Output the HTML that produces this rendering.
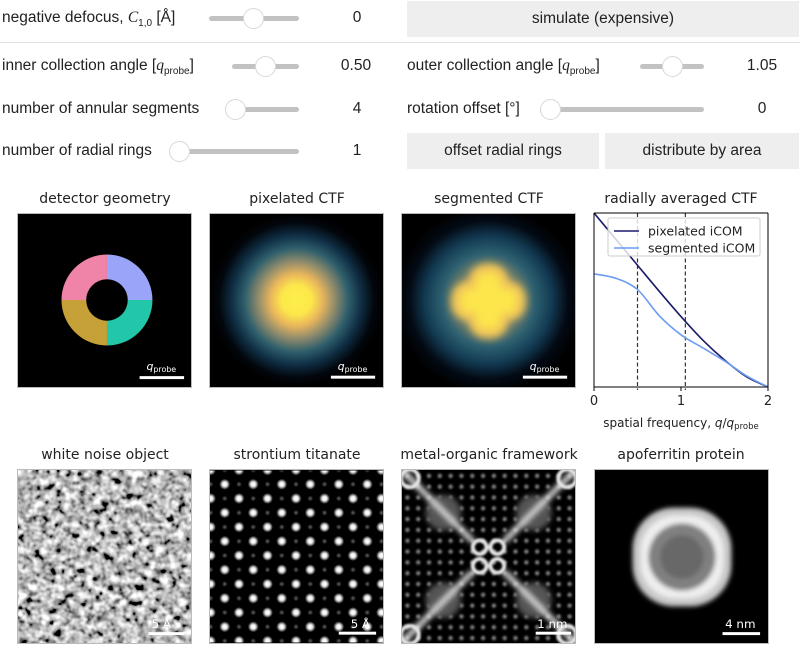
<!DOCTYPE html>
<html><head><meta charset="utf-8">
<style>
body{margin:0;width:804px;height:658px;background:#fff;position:relative;overflow:hidden;font-family:"Liberation Sans","DejaVu Sans",sans-serif;color:#222}
.abs{position:absolute}
.lbl{position:absolute;font-size:15.5px;line-height:20px;white-space:nowrap}
.val{position:absolute;font-size:15.5px;line-height:20px;text-align:center;width:60px}
.track{position:absolute;height:5px;background:#c2c2c2;border-radius:3px}
.thumb{position:absolute;width:21px;height:21px;border-radius:50%;background:#fff;border:1px solid #d8d8d8;box-sizing:border-box}
.btn{position:absolute;background:#eeeeee;font-size:15.5px;text-align:center;line-height:36px;height:36px}
.ttl{position:absolute;font-family:"DejaVu Sans",sans-serif;font-size:14px;text-align:center;width:200px}
.img{position:absolute;width:175px;height:175px;border:1px solid #bbb;box-sizing:border-box;overflow:hidden;background:#000}
sub{font-size:10px}
</style></head><body>

<div class="lbl" style="left:2px;top:8px">negative defocus, <i style="font-family:'Liberation Serif',serif">C</i><sub>1,0</sub> [Å]</div>
<div class="track" style="left:209px;top:16px;width:90px"></div>
<div class="thumb" style="left:243px;top:8px"></div>
<div class="val" style="left:327px;top:8px">0</div>
<div class="btn" style="left:407px;top:1px;width:392px">simulate (expensive)</div>
<div class="abs" style="left:0;top:42px;width:800px;height:1px;background:#e2e2e2"></div>

<div class="lbl" style="left:2px;top:56px">inner collection angle [<i style="font-family:'Liberation Serif',serif">q</i><sub>probe</sub>]</div>
<div class="track" style="left:232px;top:64px;width:67px"></div>
<div class="thumb" style="left:255px;top:56px"></div>
<div class="val" style="left:326px;top:56px">0.50</div>
<div class="lbl" style="left:407px;top:56px">outer collection angle [<i style="font-family:'Liberation Serif',serif">q</i><sub>probe</sub>]</div>
<div class="track" style="left:640px;top:64px;width:64px"></div>
<div class="thumb" style="left:662px;top:56px"></div>
<div class="val" style="left:732px;top:56px">1.05</div>

<div class="lbl" style="left:2px;top:99px">number of annular segments</div>
<div class="track" style="left:225px;top:107px;width:74px"></div>
<div class="thumb" style="left:225px;top:99px"></div>
<div class="val" style="left:327px;top:99px">4</div>
<div class="lbl" style="left:407px;top:99px">rotation offset [°]</div>
<div class="track" style="left:541px;top:107px;width:163px"></div>
<div class="thumb" style="left:540px;top:99px"></div>
<div class="val" style="left:732px;top:99px">0</div>

<div class="lbl" style="left:2px;top:141px">number of radial rings</div>
<div class="track" style="left:170px;top:149px;width:129px"></div>
<div class="thumb" style="left:169px;top:141px"></div>
<div class="val" style="left:327px;top:141px">1</div>
<div class="btn" style="left:407px;top:133px;width:192px">offset radial rings</div>
<div class="btn" style="left:605px;top:133px;width:194px">distribute by area</div>

<div class="ttl" style="left:5px;top:191px">detector geometry</div>
<div class="ttl" style="left:197px;top:191px">pixelated CTF</div>
<div class="ttl" style="left:389px;top:191px">segmented CTF</div>
<div class="ttl" style="left:581px;top:191px">radially averaged CTF</div>

<svg class="img" style="left:17px;top:213px" width="175" height="175" viewBox="0 0 175 175">
<rect width="175" height="175" fill="#000"/>
<path d="M90,87 L90,41 A46,46 0 0 0 44,87 Z" fill="#ef84a8"/>
<path d="M90,87 L136,87 A46,46 0 0 0 90,41 Z" fill="#9aa5fa"/>
<path d="M90,87 L44,87 A46,46 0 0 0 90,133 Z" fill="#c6a137"/>
<path d="M90,87 L90,133 A46,46 0 0 0 136,87 Z" fill="#22c7a9"/>
<circle cx="90" cy="87" r="21" fill="#000"/>
<text x="145" y="158" fill="#fff" font-family="DejaVu Sans" font-size="11" font-style="italic" text-anchor="middle">q<tspan font-style="normal" font-size="8" dy="2">probe</tspan></text>
<rect x="123" y="164" width="45" height="3" fill="#fff"/>
</svg>

<svg class="img" style="left:209px;top:213px" width="176" height="175" viewBox="0 0 176 175">
<defs><radialGradient id="g1" cx="88" cy="87" r="88" gradientUnits="userSpaceOnUse">
<stop offset="0" stop-color="#fdef4a"/><stop offset="0.17" stop-color="#fde84a"/><stop offset="0.3" stop-color="#e9b65c"/><stop offset="0.45" stop-color="#8d8a6c"/><stop offset="0.6" stop-color="#2f5f6c"/><stop offset="0.75" stop-color="#0f2e44"/><stop offset="0.9" stop-color="#02060c"/><stop offset="1" stop-color="#000"/></radialGradient></defs>
<rect width="176" height="175" fill="url(#g1)"/>
<text x="145" y="158" fill="#fff" font-family="DejaVu Sans" font-size="11" font-style="italic" text-anchor="middle">q<tspan font-style="normal" font-size="8" dy="2">probe</tspan></text>
<rect x="123" y="164" width="45" height="3" fill="#fff"/>
</svg>

<svg class="img" style="left:401px;top:213px" width="176" height="175" viewBox="0 0 176 175">
<defs><radialGradient id="g2" cx="88" cy="87" r="95" gradientUnits="userSpaceOnUse">
<stop offset="0" stop-color="#d8b060"/><stop offset="0.3" stop-color="#8a8868"/><stop offset="0.5" stop-color="#2d6070"/><stop offset="0.68" stop-color="#123a52"/><stop offset="0.85" stop-color="#030a14"/><stop offset="1" stop-color="#000"/></radialGradient>
<filter id="bl"><feGaussianBlur stdDeviation="4"/></filter></defs>
<rect width="176" height="175" fill="url(#g2)"/>
<g filter="url(#bl)" fill="#f2c858"><rect x="68" y="50" width="40" height="76" rx="18"/><rect x="50" y="68" width="76" height="40" rx="18"/></g>
<g filter="url(#bl)" fill="#fde64c"><rect x="76" y="60" width="24" height="56" rx="10"/><rect x="60" y="76" width="56" height="24" rx="10"/></g>
<text x="145" y="158" fill="#fff" font-family="DejaVu Sans" font-size="11" font-style="italic" text-anchor="middle">q<tspan font-style="normal" font-size="8" dy="2">probe</tspan></text>
<rect x="123" y="164" width="45" height="3" fill="#fff"/>
</svg>

<svg id="chart" class="abs" style="left:580px;top:205px" width="224" height="230" viewBox="0 0 224 230" font-family="DejaVu Sans"></svg>

<div class="ttl" style="left:5px;top:447px">white noise object</div>
<div class="ttl" style="left:197px;top:447px">strontium titanate</div>
<div class="ttl" style="left:389px;top:447px">metal-organic framework</div>
<div class="ttl" style="left:581px;top:447px">apoferritin protein</div>

<svg class="img" style="left:17px;top:469px" width="175" height="175" viewBox="0 0 175 175">
<defs><filter id="nz" x="0" y="0" width="100%" height="100%"><feTurbulence type="fractalNoise" baseFrequency="0.13" numOctaves="2" seed="4"/><feColorMatrix type="matrix" values="0.33 0.33 0.33 0 0  0.33 0.33 0.33 0 0  0.33 0.33 0.33 0 0  0 0 0 0 1"/><feComponentTransfer><feFuncR type="linear" slope="3.5" intercept="-1.25"/><feFuncG type="linear" slope="3.5" intercept="-1.25"/><feFuncB type="linear" slope="3.5" intercept="-1.25"/></feComponentTransfer></filter></defs>
<rect width="175" height="175" filter="url(#nz)"/>
<text x="145" y="160" fill="#fff" font-family="DejaVu Sans" font-size="12" text-anchor="middle">5 Å</text>
<rect x="132" y="164" width="36" height="3" fill="#fff"/>
</svg>

<svg class="img" style="left:209px;top:469px" width="176" height="175" viewBox="0 0 176 175">
<defs>
<radialGradient id="bd"><stop offset="0" stop-color="#fff"/><stop offset="0.4" stop-color="#f0f0f0"/><stop offset="1" stop-color="#fff" stop-opacity="0"/></radialGradient>
<radialGradient id="dd"><stop offset="0" stop-color="#666"/><stop offset="1" stop-color="#666" stop-opacity="0"/></radialGradient>
<pattern id="sto" x="0.5" y="-0.5" width="29" height="29" patternUnits="userSpaceOnUse">
<rect width="29" height="29" fill="#000"/>
<circle cx="14.5" cy="14.5" r="5.5" fill="url(#bd)"/>
<circle cx="0" cy="0" r="5.5" fill="url(#bd)"/><circle cx="29" cy="0" r="5.5" fill="url(#bd)"/><circle cx="0" cy="29" r="5.5" fill="url(#bd)"/><circle cx="29" cy="29" r="5.5" fill="url(#bd)"/>
<circle cx="0" cy="14.5" r="3" fill="url(#dd)"/><circle cx="29" cy="14.5" r="3" fill="url(#dd)"/>
<circle cx="14.5" cy="0" r="3" fill="url(#dd)"/><circle cx="14.5" cy="29" r="3" fill="url(#dd)"/>
</pattern></defs>
<rect width="176" height="175" fill="url(#sto)"/>
<text x="153" y="160" fill="#fff" font-family="DejaVu Sans" font-size="12" text-anchor="middle">5 Å</text>
<rect x="131" y="164" width="38" height="3" fill="#fff"/>
</svg>

<svg class="img" style="left:401px;top:469px" width="176" height="175" viewBox="0 0 176 175">
<defs><filter id="b3"><feGaussianBlur stdDeviation="3"/></filter><filter id="b1"><feGaussianBlur stdDeviation="1.2"/></filter>
<pattern id="dots" width="11" height="11" patternUnits="userSpaceOnUse"><circle cx="5.5" cy="5.5" r="2.2" fill="#a0a0a0"/></pattern></defs>
<rect width="176" height="175" fill="#000"/>
<rect width="176" height="175" fill="url(#dots)" filter="url(#b1)" opacity="0.85"/>
<g filter="url(#b3)" fill="#555"><circle cx="42" cy="43" r="18"/><circle cx="134" cy="43" r="18"/><circle cx="42" cy="132" r="18"/><circle cx="134" cy="132" r="18"/></g>
<g filter="url(#b3)" stroke="#dcdcdc" stroke-width="6"><line x1="0" y1="0" x2="72" y2="72"/><line x1="176" y1="0" x2="104" y2="72"/><line x1="0" y1="175" x2="72" y2="103"/><line x1="176" y1="175" x2="104" y2="103"/></g>
<g fill="none" stroke="#e8e8e8" stroke-width="4" filter="url(#b1)"><circle cx="79" cy="78" r="7"/><circle cx="97" cy="78" r="7"/><circle cx="79" cy="97" r="7"/><circle cx="97" cy="97" r="7"/>
<circle cx="8" cy="8" r="9"/><circle cx="168" cy="8" r="9"/><circle cx="8" cy="167" r="9"/><circle cx="168" cy="167" r="9"/></g>
<text x="153" y="160" fill="#fff" font-family="DejaVu Sans" font-size="12" text-anchor="middle">1 nm</text>
<rect x="136" y="164" width="36" height="3" fill="#fff"/>
</svg>

<svg class="img" style="left:594px;top:469px" width="175" height="175" viewBox="0 0 175 175">
<defs><filter id="b4"><feGaussianBlur stdDeviation="2.5"/></filter></defs>
<rect width="175" height="175" fill="#000"/>
<g filter="url(#b4)">
<rect x="38" y="38" width="100" height="100" rx="42" fill="#c8c8c8"/>
<rect x="46" y="46" width="84" height="84" rx="36" fill="#eeeeee"/>
<circle cx="88" cy="88" r="34" fill="#808080"/>
<circle cx="88" cy="88" r="22" fill="#686868"/>
</g>
<text x="147" y="160" fill="#fff" font-family="DejaVu Sans" font-size="12" text-anchor="middle">4 nm</text>
<rect x="129" y="164" width="38" height="3" fill="#fff"/>
</svg>

<script>
const qValues=[0,0.25,0.5,0.75,1.0,1.25,1.5,1.75,2.0];
const pixelatedCTF=[1.0,0.85,0.70,0.55,0.405,0.27,0.155,0.06,0.0];
const segmentedCTF=[0.65,0.625,0.56,0.41,0.30,0.225,0.15,0.065,0.0];
const xTicks=[0,1,2];
const cutoffs=[0.5,1.05];
const NS='http://www.w3.org/2000/svg';
const svg=document.getElementById('chart');
const L=14,R=188,T=8,B=182;
const xs=v=>L+(v-0)/2*(R-L);
const ys=v=>B-v*(B-T);
function mk(tag,attrs){const e=document.createElementNS(NS,tag);for(const k in attrs)e.setAttribute(k,attrs[k]);svg.appendChild(e);return e;}
function pathFor(arr){
  const p=qValues.map((q,i)=>[xs(q),ys(arr[i])]);
  let d='M'+p[0][0]+','+p[0][1];
  for(let i=0;i<p.length-1;i++){const p0=p[Math.max(0,i-1)],p1=p[i],p2=p[i+1],p3=p[Math.min(p.length-1,i+2)];
    d+=' C'+(p1[0]+(p2[0]-p0[0])/6)+','+(p1[1]+(p2[1]-p0[1])/6)+' '+(p2[0]-(p3[0]-p1[0])/6)+','+(p2[1]-(p3[1]-p1[1])/6)+' '+p2[0]+','+p2[1];}
  return d;}
cutoffs.forEach(c=>{const l=mk('line',{x1:xs(c),x2:xs(c),y1:T,y2:B+3,stroke:'#333','stroke-width':1.2,'stroke-dasharray':'4,2.5'});

});
const p1=mk('path',{d:pathFor(pixelatedCTF),fill:'none',stroke:'#1b1a6b','stroke-width':1.6});


const p2=mk('path',{d:pathFor(segmentedCTF),fill:'none',stroke:'#6b9cf2','stroke-width':1.6});


const lg=mk('rect',{x:28,y:13,width:152,height:38,rx:2,fill:'#fff','fill-opacity':0.8,stroke:'#ccc'});


[['pixelated iCOM','#1b1a6b',26],['segmented iCOM','#6b9cf2',43]].forEach(([t,c,y])=>{
  const ln=mk('line',{x1:34,x2:59,y1:y,y2:y,stroke:c,'stroke-width':1.6});
  
  
  const tx=mk('text',{x:68,y:y+4.5,'font-size':12.5,fill:'#222'});tx.textContent=t;
  
  });
const ax=mk('path',{d:`M${L},${T} V${B} H${R} V${T}`,fill:'none',stroke:'#000','stroke-width':1});


mk('line',{x1:L,x2:R,y1:T,y2:T,stroke:'#000','stroke-width':1});
xTicks.forEach(t=>{mk('line',{x1:xs(t),x2:xs(t),y1:B,y2:B+4,stroke:'#000'});
  const tx=mk('text',{x:xs(t),y:B+18,'font-size':13,'text-anchor':'middle',fill:'#222'});tx.textContent=t;
  
  });
const xl=mk('text',{x:(L+R)/2,y:B+40,'font-size':12,'text-anchor':'middle',fill:'#222'});
xl.innerHTML='spatial frequency, <tspan font-style="italic">q</tspan>/<tspan font-style="italic">q</tspan><tspan font-size="8.5" dy="2">probe</tspan>';


</script>
</body></html>
